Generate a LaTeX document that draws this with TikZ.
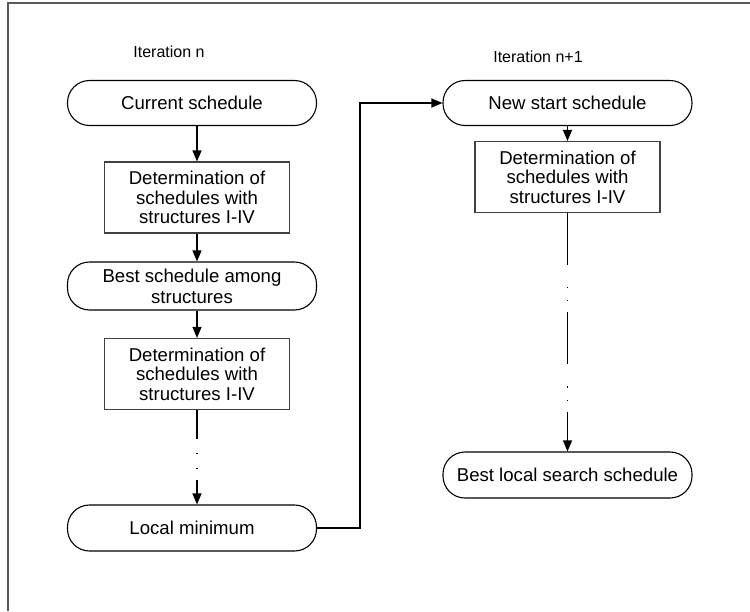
\documentclass[tikz,border=0pt]{standalone}
\usepackage{fontspec}
\setmainfont{Liberation Sans}
\usetikzlibrary{arrows.meta, positioning, calc}

\begin{document}
\begin{tikzpicture}[x=1pt, y=-1pt]
    % Define styles
    \tikzset{
        terminal/.style={
            rectangle,
            rounded corners=22pt,
            minimum width=249pt,
            minimum height=45pt,
            inner sep=2pt,
            draw=black,
            line width=1.1pt,
            align=center,
            font=\fontsize{18.6pt}{21pt}\selectfont,
            anchor=center
        },
        process/.style={
            rectangle,
            minimum width=185pt,
            minimum height=71pt,
            inner sep=2pt,
            draw=black!75,
            line width=1.1pt,
            align=center,
            font=\fontsize{18.6pt}{19.5pt}\selectfont,
            anchor=center
        },
        arrow style/.style={-{Triangle[width=9pt, length=11pt]}, line width=1.1pt},
        skip style/.style={arrow style, dash pattern=on 52pt off 22pt on 1.2pt off 12pt on 1.2pt off 11pt},
        label style/.style={font=\fontsize{16pt}{19pt}\selectfont}
    }

    % Page and frame
    \useasboundingbox (0,0) rectangle (750,611);
    \draw[black!65, line width=1.5pt] (750,3) -- (8,3) -- (8,611);

    % Iteration n
    \begin{scope}
        \node[label style] (itn) at (169,52) {Iteration n};
        \node[terminal] (cs) at (192,103) {Current schedule};
        \node[process] (d1) at (197,197.5) {Determination of\\schedules with\\structures I-IV};
        \node[terminal, minimum height=48pt] (bss) at (192,286) {Best schedule among\\structures};
        \node[process] (d2) at (197,374) {Determination of\\schedules with\\structures I-IV};
        \node[terminal, minimum height=46pt] (lm) at (192,528) {Local minimum};
    \end{scope}

    % Iteration n+1
    \begin{scope}
        \node[label style] (itm) at (538,57) {Iteration n+1};
        \node[terminal] (nss) at (567.5,103) {New start schedule};
        \node[process] (d3) at (567.5,177) {Determination of\\schedules with\\structures I-IV};
        \node[terminal, minimum height=46pt] (bls) at (567.5,475) {Best local search schedule};
    \end{scope}

    % Arrows within iteration n
    \draw[arrow style] (cs.south -| d1.north) -- (d1.north);
    \draw[arrow style] (d1.south) -- (d1.south |- bss.north);
    \draw[arrow style] (bss.south -| d2.north) -- (d2.north);
    \draw[skip style, dash pattern=on 29pt off 14pt on 1.2pt off 14pt on 1.2pt off 11pt] (d2.south) -- (d2.south |- lm.north);

    % Arrows within iteration n+1
    \draw[arrow style] (nss.south) -- (d3.north);
    \draw[skip style] (d3.south) -- (bls.north);

    % Link from local minimum to new start
    \coordinate (turn) at (360,0);
    \draw[arrow style] (lm.east) -- (turn |- lm.east) -- (turn |- nss.west) -- (nss.west);
\end{tikzpicture}
\end{document}
